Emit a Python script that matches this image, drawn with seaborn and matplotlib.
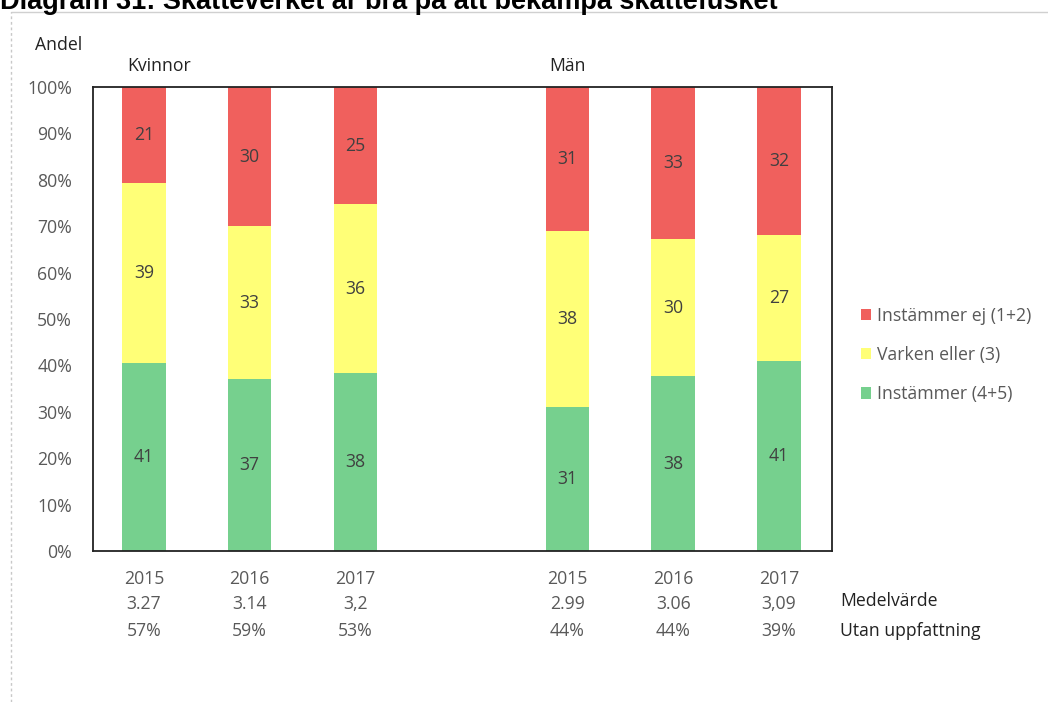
import matplotlib
matplotlib.use("Agg")
import matplotlib.pyplot as plt
from matplotlib.lines import Line2D
from matplotlib.patches import Patch
import seaborn as sns
import pandas as pd

# ---------------------------------------------------------------------------
# Data
# ---------------------------------------------------------------------------
groups = ["Kvinnor", "Kvinnor", "Kvinnor", "Män", "Män", "Män"]
years = ["2015", "2016", "2017", "2015", "2016", "2017"]
instammer = [41, 37, 38, 31, 38, 41]        # 4+5
varken = [39, 33, 36, 38, 30, 27]           # 3
instammer_ej = [21, 30, 25, 31, 33, 32]     # 1+2
medelvarde = ["3.27", "3.14", "3,2", "2.99", "3.06", "3,09"]
utan_uppfattning = ["57%", "59%", "53%", "44%", "44%", "39%"]
positions = [0, 1, 2, 4, 5, 6]  # gap between the two groups

legend_labels = ["Instämmer ej (1+2)", "Varken eller (3)", "Instämmer (4+5)"]
RED, YELLOW, GREEN = "#F0605D", "#FFFF77", "#76D08E"
TXT = "#404040"
GREY = "#595959"
FS = 12.7

df = pd.DataFrame({
    "pos": positions, "group": groups, "year": years,
    "green": instammer, "yellow": varken, "red": instammer_ej,
})
tot = df["green"] + df["yellow"] + df["red"]
# bars are drawn as shares of 100 %
df["g_top"] = df["green"] / tot * 100
df["y_top"] = (df["green"] + df["yellow"]) / tot * 100
df["r_top"] = 100.0

sns.set_style("white")
plt.rcParams["font.family"] = ["Open Sans", "DejaVu Sans"]

fig = plt.figure(figsize=(10.48, 7.02), dpi=100)
W, H = 1048, 702
ax = fig.add_axes([93 / W, 1 - 551 / H, 739 / W, 464 / H])

for col, color in [("r_top", RED), ("y_top", YELLOW), ("g_top", GREEN)]:
    sns.barplot(data=df, x="pos", y=col, native_scale=True, width=0.41,
                color=color, errorbar=None, linewidth=0, saturation=1, ax=ax)

# segment labels
for _, r in df.iterrows():
    ax.text(r["pos"], r["g_top"] / 2, str(r["green"]), ha="center", va="center",
            fontsize=FS, color=TXT)
    ax.text(r["pos"], (r["g_top"] + r["y_top"]) / 2, str(r["yellow"]), ha="center",
            va="center", fontsize=FS, color=TXT)
    ax.text(r["pos"], (r["y_top"] + 100) / 2, str(r["red"]), ha="center",
            va="center", fontsize=FS, color=TXT)

ax.set_xlim(-0.48, 6.5)
ax.set_ylim(0, 100)
ax.set_xticks([])
ax.set_yticks(range(0, 101, 10))
ax.set_yticklabels([f"{v}%" for v in range(0, 101, 10)], fontsize=FS, color=GREY)
ax.tick_params(axis="y", length=0, pad=15)
ax.set_xlabel("")
ax.set_ylabel("")
for s in ax.spines.values():
    s.set_visible(True)
    s.set_color("#222222")
    s.set_linewidth(1.3)

# table under the bars
trans = ax.get_xaxis_transform()
for p, yr, mv, ut in zip(positions, years, medelvarde, utan_uppfattning):
    ax.text(p, -28 / 464, yr, transform=trans, ha="center", va="center",
            fontsize=FS, color=GREY, clip_on=False)
    ax.text(p, -53 / 464, mv, transform=trans, ha="center", va="center",
            fontsize=FS, color=GREY, clip_on=False)
    ax.text(p, -80 / 464, ut, transform=trans, ha="center", va="center",
            fontsize=FS, color=GREY, clip_on=False)
fig.text(840 / W, 1 - 601 / H, "Medelvärde", ha="left", va="center",
         fontsize=FS, color="#222222")
fig.text(840 / W, 1 - 631 / H, "Utan uppfattning", ha="left", va="center",
         fontsize=FS, color="#222222")

# group headings
ax.text(0.14, 1 + 21 / 464, "Kvinnor", transform=trans, ha="center", va="center",
        fontsize=FS, color="#222222", clip_on=False)
ax.text(4.0, 1 + 21 / 464, "Män", transform=trans, ha="center", va="center",
        fontsize=FS, color="#222222", clip_on=False)
fig.text(35 / W, 1 - 45 / H, "Andel", ha="left", va="center",
         fontsize=FS, color="#222222")

# legend
handles = [Patch(facecolor=c, edgecolor="none") for c in (RED, YELLOW, GREEN)]
fig.legend(handles, legend_labels, loc="upper left",
           bbox_to_anchor=(852 / W, 1 - 298 / H), frameon=False,
           fontsize=FS, labelcolor=GREY, handlelength=0.6, handleheight=0.6,
           handletextpad=0.3, labelspacing=1.2, borderpad=0)

# title (cut off at the top in the reference) and the outer frame
fig.text(0 / W, 1 - 9 / H, "Diagram 31: Skatteverket är bra på att bekämpa skattefusket",
         ha="left", va="baseline", fontsize=19.5, fontweight="bold",
         family="Liberation Sans", color="black")
fig.add_artist(Line2D([11 / W, 1], [1 - 12 / H, 1 - 12 / H], transform=fig.transFigure,
                      color="#D0D0D0", linewidth=1))
fig.add_artist(Line2D([11 / W, 11 / W], [0, 1 - 12 / H], transform=fig.transFigure,
                      color="#C8C8C8", linewidth=1, linestyle=(0, (2, 2))))

fig.savefig("out.png", dpi=100)
